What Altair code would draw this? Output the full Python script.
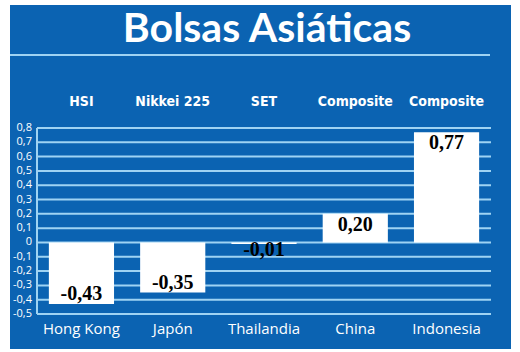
import altair as alt
import pandas as pd

# ---- data ----
markets = ["Hong Kong", "Japón", "Thailandia", "China", "Indonesia"]
indices = ["HSI", "Nikkei 225", "SET", "Composite", "Composite"]
changes = [-0.43, -0.35, -0.01, 0.20, 0.77]
tick_values = [-0.5, -0.4, -0.3, -0.2, -0.1, 0.0, 0.1, 0.2, 0.3, 0.4, 0.5, 0.6, 0.7, 0.8]
title_text = "Bolsas Asiáticas"

BLUE = "#0b63b2"
LIGHT = "#9fd3f3"

df = pd.DataFrame({"market": markets, "index": indices, "value": changes})
ticks_df = pd.DataFrame({"t": tick_values})

W, H = 454, 186
x_scale = alt.Scale(domain=markets, paddingInner=0.286, paddingOuter=0.13)
y_scale = alt.Scale(domain=[-0.5, 0.8], nice=False, zero=False)

panel = alt.Chart(pd.DataFrame({"a": [0]})).mark_rect(color=BLUE).encode(
    x=alt.value(-27), x2=alt.value(474), y=alt.value(-123), y2=alt.value(221)
)

title_line = alt.Chart(pd.DataFrame({"a": [0]})).mark_rule(color=LIGHT, strokeWidth=2).encode(
    x=alt.value(-27), x2=alt.value(453), y=alt.value(-73)
)

title = alt.Chart(pd.DataFrame({"txt": [title_text]})).mark_text(
    font="Lato", fontWeight="bold", fontSize=41, color="white", baseline="alphabetic", align="center"
).encode(x=alt.value(230), y=alt.value(-86), text="txt:N")

grid = alt.Chart(ticks_df).mark_rule(color=LIGHT, strokeWidth=2).encode(
    y=alt.Y("t:Q", scale=y_scale, axis=None),
    x=alt.value(0), x2=alt.value(W),
)

y_domain = alt.Chart(pd.DataFrame({"a": [0]})).mark_rule(color=LIGHT, strokeWidth=2).encode(
    x=alt.value(0), y=alt.value(0), y2=alt.value(H)
)

y_labels = alt.Chart(ticks_df).transform_calculate(
    lbl="datum.t == 0 ? '0' : replace(replace(format(datum.t, '.1f'), '.', ','), '\u2212', '-')"
).mark_text(font="Open Sans", fontSize=11, color="white", align="right", baseline="middle").encode(
    y=alt.Y("t:Q", scale=y_scale, axis=None),
    x=alt.value(-5),
    text="lbl:N",
)

bars = alt.Chart(df).mark_bar(color="white").encode(
    x=alt.X("market:N", scale=x_scale, sort=markets,
            axis=alt.Axis(title=None, orient="bottom", domain=False, ticks=False, tickSize=0,
                          labelAngle=0, labelColor="white", labelFont="Open Sans",
                          labelFontSize=15, labelPadding=19, labelBaseline="alphabetic", zindex=1)),
    y=alt.Y("value:Q", scale=y_scale, axis=None),
    y2=alt.datum(0),
)

label_fmt = "replace(replace(format(datum.value, '.2f'), '.', ','), '\u2212', '-')"

pos_labels = alt.Chart(df).transform_filter("datum.value >= 0").transform_calculate(
    lbl=label_fmt
).mark_text(font="Liberation Serif", fontWeight="bold", fontSize=20, color="black",
            baseline="alphabetic", dy=17).encode(
    x=alt.X("market:N", scale=x_scale, sort=markets),
    y=alt.Y("value:Q", scale=y_scale),
    text="lbl:N",
)

neg_labels = alt.Chart(df).transform_filter("datum.value < 0").transform_calculate(
    lbl=label_fmt, ly="min(datum.value, -0.12)"
).mark_text(font="Liberation Serif", fontWeight="bold", fontSize=20, color="black",
            baseline="alphabetic", dy=-4).encode(
    x=alt.X("market:N", scale=x_scale, sort=markets),
    y=alt.Y("ly:Q", scale=y_scale),
    text="lbl:N",
)

top_labels = alt.Chart(df).mark_text(
    font="DejaVu Sans Condensed", fontWeight="bold", fontSize=14, color="white", baseline="alphabetic"
).encode(
    x=alt.X("market:N", scale=x_scale, sort=markets),
    y=alt.value(-22),
    text="index:N",
)

chart = alt.layer(panel, title_line, title, grid, y_domain, y_labels, bars,
                  pos_labels, neg_labels, top_labels).properties(
    width=W, height=H,
    autosize=alt.AutoSizeParams(type="none"),
    padding={"left": 37, "top": 128, "right": 29, "bottom": 38},
    background="white",
).configure_view(stroke=None)

chart.save("out.html", embed_options={"renderer": "svg", "actions": False})
